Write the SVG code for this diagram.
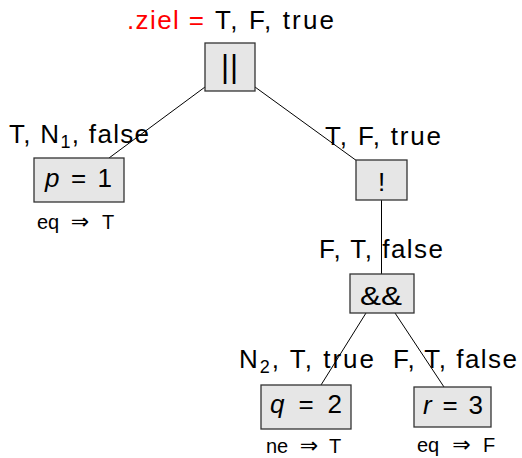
<svg xmlns="http://www.w3.org/2000/svg" width="522" height="458" viewBox="0 0 522 458">
<style>
text{font-family:"Liberation Sans","DejaVu Sans",sans-serif;fill:#000}
.lbl{font-size:26px}
.res{font-size:20px}
.arr{font-size:22px;font-family:"DejaVu Sans",sans-serif}
.box{fill:#e6e6e6;stroke:#333;stroke-width:1.3}
.edge{stroke:#000;stroke-width:1;fill:none}
.m{font-style:italic}
</style>
<rect width="522" height="458" fill="#fff"/>
<g id="edges">
<line class="edge" x1="205" y1="87" x2="109" y2="158"/>
<line class="edge" x1="255" y1="87" x2="357" y2="161"/>
<line class="edge" x1="381.5" y1="200" x2="381.5" y2="274"/>
<line class="edge" x1="366" y1="313" x2="321" y2="385"/>
<line class="edge" x1="395" y1="313" x2="444" y2="387"/>
</g>
<g id="title">
<text class="lbl" x="127" y="29" textLength="77" lengthAdjust="spacing" style="fill:#ff0000">.ziel =</text>
<text class="lbl" x="215" y="29" textLength="119" lengthAdjust="spacing">T, F, true</text>
</g>
<g id="or">
<rect class="box" x="205" y="43" width="50" height="48"/>
<text x="230" y="76.5" text-anchor="middle" style="font-size:31px;letter-spacing:1px">||</text>
<text class="lbl" x="325" y="145" textLength="116" lengthAdjust="spacing">T, F, true</text>
</g>
<g id="p">
<rect class="box" x="34" y="158" width="90" height="44"/>
<text class="lbl" x="45" y="187" textLength="67" lengthAdjust="spacing"><tspan class="m">p</tspan> = 1</text>
<text class="lbl" x="9" y="143" textLength="140" lengthAdjust="spacing">T, N<tspan dy="5" style="font-size:18px">1</tspan><tspan dy="-5">, false</tspan></text>
<text class="res" x="37" y="229">eq</text>
<text class="arr" x="80" y="229" text-anchor="middle">⇒</text>
<text class="res" x="102" y="229">T</text>
</g>
<g id="not">
<rect class="box" x="356" y="160" width="51" height="40"/>
<text class="lbl" x="381.5" y="191" text-anchor="middle">!</text>
<text class="lbl" x="319" y="258" textLength="124" lengthAdjust="spacing">F, T, false</text>
</g>
<g id="and">
<rect class="box" x="350" y="274" width="64" height="39"/>
<text class="lbl" x="360" y="305" textLength="42" lengthAdjust="spacingAndGlyphs">&amp;&amp;</text>
</g>
<g id="q">
<rect class="box" x="261" y="385" width="90" height="44"/>
<text class="lbl" x="270" y="413" textLength="72" lengthAdjust="spacing"><tspan class="m">q</tspan> = 2</text>
<text class="lbl" x="239" y="368" textLength="135" lengthAdjust="spacing">N<tspan dy="5" style="font-size:18px">2</tspan><tspan dy="-5">, T, true</tspan></text>
<text class="res" x="266" y="453">ne</text>
<text class="arr" x="309" y="453" text-anchor="middle">⇒</text>
<text class="res" x="329" y="453">T</text>
</g>
<g id="r">
<rect class="box" x="414" y="387" width="77" height="40"/>
<text class="lbl" x="423" y="414" textLength="60" lengthAdjust="spacing"><tspan class="m">r</tspan> = 3</text>
<text class="lbl" x="393" y="368" textLength="124" lengthAdjust="spacing">F, T, false</text>
<text class="res" x="417" y="452">eq</text>
<text class="arr" x="461.5" y="452" text-anchor="middle">⇒</text>
<text class="res" x="483" y="452">F</text>
</g>
</svg>
